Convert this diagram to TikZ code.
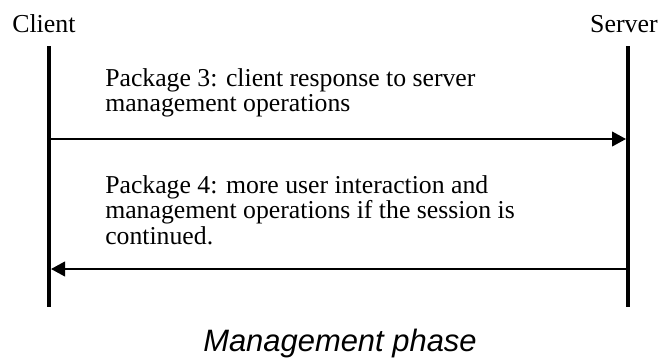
\documentclass[tikz,border=0pt]{standalone}
\usepackage{fontspec}
\setmainfont{Liberation Serif}
\newfontfamily\phasefont{Liberation Sans}
\usetikzlibrary{arrows.meta}

\tikzset{
	lifeline/.style={line width=3pt,draw=black},
	message/.style={-{Triangle[length=10.5pt,width=11pt]},line width=1.5pt,draw=black},
	msgtext/.style={anchor=north west,inner sep=0pt,align=left,font=\fontsize{19.3}{19.3}\selectfont},
}

\begin{document}
\begin{tikzpicture}[x=0.75pt,y=0.75pt,yscale=-1,xscale=1]

	\useasboundingbox (0,0) rectangle (659,358);

	%%LIFELINES---------------------------------------------
	% Text Node
	\node (client) [anchor=base west,inner sep=0pt,font=\fontsize{19.4}{22}\selectfont] at (12,32) {Client};
	% Text Node
	\node (server) [anchor=base east,inner sep=0pt,font=\fontsize{19.4}{22}\selectfont] at (658,32) {Server};

	\coordinate (clientTop) at (49,46);
	\coordinate (clientBot) at (49,307);
	\coordinate (serverTop) at (628,46);
	\coordinate (serverBot) at (628,307);

	%client line
	\draw [lifeline] (clientTop) -- (clientBot);
	%server line
	\draw [lifeline] (serverTop) -- (serverBot);

	%%MESSAGES---------------------------------------------
	\coordinate (pkgThreeFrom) at (49,139);
	\coordinate (pkgThreeTo) at (628,139);
	\coordinate (pkgFourFrom) at (628,269);
	\coordinate (pkgFourTo) at (49,269);

	%Package 3
	\draw [message,shorten >=1.5pt,shorten <=1.5pt] (pkgThreeFrom) -- (pkgThreeTo);
	%Package 4
	\draw [message,shorten >=1.5pt,shorten <=1.5pt] (pkgFourFrom) -- (pkgFourTo);

	% Text Node
	\node (pkgThree) [msgtext] at (105,68) {Package 3: client response to server\\management operations};
	% Text Node
	\node (pkgFour) [msgtext] at (105,175) {Package 4: more user interaction and\\management operations if the session is\\continued.};

	%%CAPTION---------------------------------------------
	% Text Node
	\node (phase) [anchor=base west,inner sep=0pt,font=\phasefont\itshape\fontsize{23.2}{26}\selectfont] at (203,351) {Management phase};

\end{tikzpicture}
\end{document}
